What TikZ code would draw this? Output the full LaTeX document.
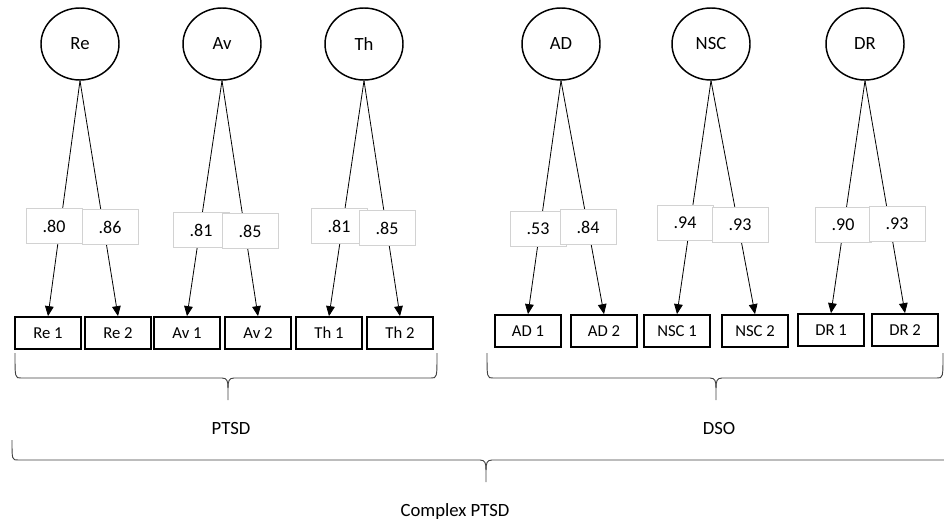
\documentclass[tikz,border=0pt]{standalone}
\usepackage{fontspec}
\setmainfont{Carlito}
\usetikzlibrary{arrows.meta,shapes.geometric}

\tikzset{
  factor/.style={draw, ellipse, line width=1.1pt, minimum width=58.5pt, minimum height=54pt,
    inner sep=0pt, font=\fontsize{14}{16}\selectfont},
  item/.style={draw, line width=1.3pt, minimum width=49pt, minimum height=24pt,
    inner sep=1pt, font=\fontsize{12.5}{14}\selectfont},
  loading/.style={draw=gray!35, fill=white, line width=0.5pt, minimum width=42pt,
    minimum height=26pt, inner sep=1pt, font=\fontsize{13.5}{15}\selectfont},
  path/.style={line width=0.6pt, -{Triangle[width=6.5pt,length=7.5pt]}},
  brace/.style={line width=0.7pt, draw=black!75},
  grouplabel/.style={font=\fontsize{14}{16}\selectfont}
}

% Word-like curly brace: x1, x2, tip x, top y, bar y, tip y
\newcommand\wordbrace[6]{%
  \draw[brace] (#1,#4) .. controls (#1,#5) .. (#1+6,#5) -- (#3-6,#5)
    .. controls (#3-1,#5) and (#3,#5+3) .. (#3,#5+10) -- (#3,#6);
  \draw[brace] (#2,#4) .. controls (#2,#5) .. (#2-6,#5) -- (#3+6,#5)
    .. controls (#3+1,#5) and (#3,#5+3) .. (#3,#5+10);
}

\begin{document}
\begin{tikzpicture}[x=0.75pt, y=-0.75pt]
\useasboundingbox (0,0) rectangle (944,525);

% latent factors and their two indicators
\foreach \f/\cx/\ax/\bx/\by/\lax/\lay/\lbx/\lby/\va/\vb in {
    Re/80/48/118/333/54/226/110/227/.80/.86,
    Av/222/187/258/333/201/230/250/231/.81/.85,
    Th/364/329/400/333/339/226/387/228/.81/.85,
    AD/561/528/604/331/538/229/588/227/.53/.84,
    NSC/711/677/755/331/685/223/740/225/.94/.93,
    DR/865/831/905/330/843/225/897/224/.90/.93}
{
  \node[factor] (\f) at (\cx,44) {\f};
  \node[item] (\f1) at (\ax,\by) {\f\ 1};
  \node[item] (\f2) at (\bx,\by) {\f\ 2};
  \draw[path] (\f.south) -- (\f1.north);
  \draw[path] (\f.south) -- (\f2.north);
  \node[loading] (\f la) at (\lax,\lay) {\va};
  \node[loading] (\f lb) at (\lbx,\lby) {\vb};
}

% groupings
\wordbrace{15}{437}{228}{353}{378}{400}
\wordbrace{487}{943}{716}{353}{378}{400}
\wordbrace{12}{960}{486}{440}{460}{482}

\node[grouplabel] (ptsd) at (231,428) {PTSD};
\node[grouplabel] (dso) at (719,428) {DSO};
\node[grouplabel] (cptsd) at (455,512) {Complex PTSD};
\end{tikzpicture}
\end{document}
